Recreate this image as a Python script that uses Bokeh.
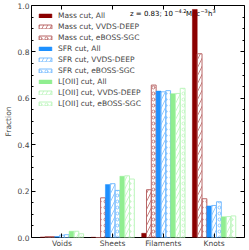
from bokeh.plotting import figure
from bokeh.models import (FactorRange, Range1d, CategoricalAxis, LinearAxis, FixedTicker,
                          Label, ColumnDataSource, PrintfTickFormatter)
from bokeh.transform import dodge
from bokeh.embed import file_html
from bokeh.resources import INLINE
import numpy as np

categories = ["Voids", "Sheets", "Filaments", "Knots"]

mass_all   = [0.002, 0.001, 0.018, 0.983]
mass_vvds  = [0.004, 0.000, 0.206, 0.792]
mass_eboss = [0.004, 0.171, 0.657, 0.167]
sfr_all    = [0.004, 0.228, 0.631, 0.136]
sfr_vvds   = [0.010, 0.232, 0.628, 0.138]
sfr_eboss  = [0.012, 0.203, 0.633, 0.154]
loii_all   = [0.027, 0.264, 0.620, 0.089]
loii_vvds  = [0.027, 0.266, 0.621, 0.090]
loii_eboss = [0.016, 0.252, 0.643, 0.093]

series_labels = ["Mass cut, All", "Mass cut, VVDS-DEEP", "Mass cut, eBOSS-SGC",
                 "SFR cut, All", "SFR cut, VVDS-DEEP", "SFR cut, eBOSS-SGC",
                 "L[OII] cut, All", "L[OII] cut, VVDS-DEEP", "L[OII] cut, eBOSS-SGC"]
y_ticks = [0.0, 0.2, 0.4, 0.6, 0.8, 1.0]

FONT = "DejaVu Sans"
FS = "7.5px"

src = ColumnDataSource(dict(cat=categories,
                            mass_all=mass_all, mass_vvds=mass_vvds, mass_eboss=mass_eboss,
                            sfr_all=sfr_all, sfr_vvds=sfr_vvds, sfr_eboss=sfr_eboss,
                            loii_all=loii_all, loii_vvds=loii_vvds, loii_eboss=loii_eboss))

p = figure(width=249, height=250,
           x_range=FactorRange(*categories, range_padding=0.1, range_padding_units="absolute"),
           y_range=Range1d(0, 1.0),
           output_backend="svg", toolbar_location=None,
           min_border_left=27, min_border_right=5, min_border_top=5, min_border_bottom=13,
           x_axis_location=None, y_axis_location=None)
p.grid.visible = False
p.outline_line_color = "black"
p.outline_line_width = 1
p.background_fill_color = "white"

# axes
minor = [float(v) for v in np.round(np.arange(0, 1.0001, 0.05), 2) if round(v * 20) % 4 != 0]
yt = FixedTicker(ticks=y_ticks, minor_ticks=minor)

left = LinearAxis(ticker=yt, formatter=PrintfTickFormatter(format="%.1f"), axis_label="Fraction")
right = LinearAxis(ticker=yt, major_label_text_font_size="1px", major_label_standoff=0,
                   major_label_text_color=None)
bottom = CategoricalAxis()
top = CategoricalAxis(major_label_text_font_size="1px", major_label_standoff=0,
                      major_label_text_color=None)
for ax in (left, right, bottom, top):
    ax.axis_line_color = None
    ax.major_tick_in = 4
    ax.major_tick_out = 0
    ax.major_tick_line_color = "black"
    ax.major_label_text_font = FONT
for ax in (left, right):
    ax.minor_tick_in = 2
    ax.minor_tick_out = 0
    ax.minor_tick_line_color = "black"
left.major_label_text_font_size = FS
left.major_label_standoff = 2
left.axis_label_text_font = FONT
left.axis_label_text_font_size = FS
left.axis_label_text_font_style = "normal"
left.axis_label_standoff = 2
bottom.major_label_text_font_size = FS
bottom.major_label_standoff = 1
p.add_layout(left, "left")
p.add_layout(right, "right")
p.add_layout(bottom, "below")
p.add_layout(top, "above")

# annotation (drawn beneath the bars)
ann_x, ann_y = 1.84, 0.962
pieces = [("z = 0.83; 10", "7px", 0, 0), ("\u22124.2", "5px", 44.5, 3.5),
          ("Mpc", "7px", 56, 0), ("\u22123", "5px", 70.5, 3.5),
          ("h", "7px", 78, 0), ("3", "5px", 82.5, 3.5)]
for txt, fs, dx, dy in pieces:
    p.add_layout(Label(x=ann_x, y=ann_y, text=txt, x_offset=dx, y_offset=dy,
                       text_font=FONT, text_font_size=fs, text_color="black",
                       text_baseline="alphabetic", level="underlay"))

w = 0.095
cols = ["mass_all", "mass_vvds", "mass_eboss", "sfr_all", "sfr_vvds", "sfr_eboss",
        "loii_all", "loii_vvds", "loii_eboss"]
solid = ["#8b0000", "#1e90ff", "#90ee90"]
pale = ["#b96666", "#78bcff", "#bcf5bc"]
for i, (col, lab) in enumerate(zip(cols, series_labels)):
    g, kind = divmod(i, 3)
    xs = dodge("cat", (i - 4) * w, range=p.x_range)
    if kind == 0:
        p.vbar(x=xs, top=col, width=w, source=src, fill_color=solid[g],
               line_color=solid[g], line_width=0.5, legend_label=lab)
    else:
        p.vbar(x=xs, top=col, width=w, source=src, fill_color="white", fill_alpha=0,
               line_color=pale[g], line_width=1,
               hatch_pattern="/" if kind == 1 else "o",
               hatch_color=pale[g], hatch_scale=8 if kind == 1 else 6,
               hatch_weight=0.8, legend_label=lab)

lg = p.legend[0]
lg.location = "top_left"
lg.margin = 1
lg.padding = 5
lg.spacing = 2
lg.glyph_width = 16
lg.glyph_height = 5
lg.label_height = 9
lg.label_standoff = 5
lg.label_text_font = FONT
lg.label_text_font_size = FS
lg.background_fill_alpha = 0
lg.border_line_alpha = 0

open("out.html", "w").write(file_html(p, INLINE))
